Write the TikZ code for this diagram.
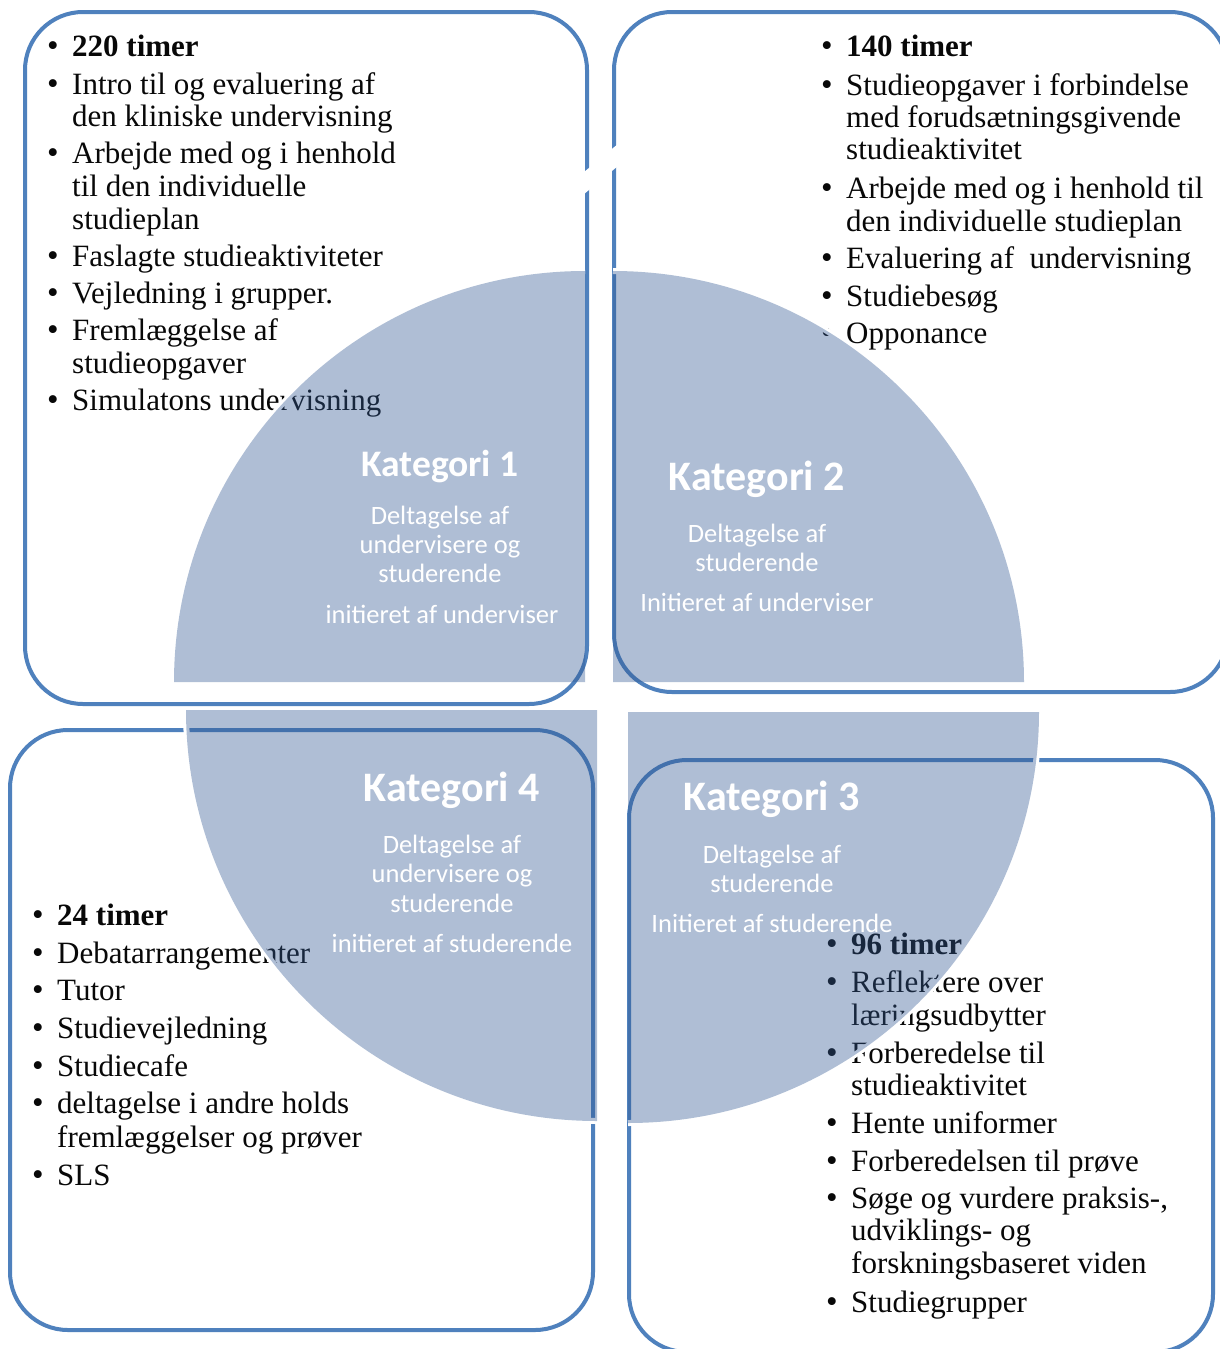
\documentclass[tikz,border=0pt]{standalone}
\usepackage{fontspec}
\setmainfont{Liberation Serif}
\newfontfamily\catfont{Carlito}
\definecolor{boxblue}{RGB}{79,129,189}
\definecolor{piecol}{RGB}{50,88,147}
\definecolor{txtcol}{RGB}{8,8,8}
\begin{document}
\begin{tikzpicture}[x=1pt,y=-1pt,
  boxline/.style={draw=boxblue, line width=4pt, rounded corners=58pt},
  txt/.style={anchor=base west, inner sep=0pt, text=txtcol, font=\fontsize{31}{33}\selectfont},
  btxt/.style={txt, font=\fontsize{31}{33}\selectfont\bfseries},
  bul/.style={anchor=base, inner sep=0pt, text=txtcol, font=\fontsize{33}{33}\selectfont},
  pie/.style={fill=piecol, fill opacity=0.39},
  piegap/.style={draw=white, line width=6pt},
  cathead/.style={anchor=base, inner sep=0pt, text=white, font=\catfont\bfseries\fontsize{42}{42}\selectfont},
  catsub/.style={anchor=base, inner sep=0pt, text=white, font=\catfont\fontsize{26.5}{26.5}\selectfont}]
\useasboundingbox (0,0) rectangle (1220,1349);
\fill[white] (0,0) rectangle (1220,1349);

% boxes
\draw[boxline] (25,12) rectangle (587,704);
\draw[boxline] (614,12) rectangle (1228,692);
\draw[boxline] (10,730) rectangle (593,1330);
\draw[boxline] (629,760) rectangle (1213,1352);

% white marks crossing the top lines
\draw[white, line width=17pt] (578,188) -- (624,150);

% top-left text
\node[bul] (tlb1) at (53,56) {\textbullet};
\node[btxt] (tl1) at (72,56) {220 timer};
\node[bul] (tlb2) at (53,94) {\textbullet};
\node[txt] (tl2) at (72,94) {Intro til og evaluering af};
\node[txt] (tl3) at (72,126) {den kliniske undervisning};
\node[bul] (tlb3) at (53,163) {\textbullet};
\node[txt] (tl4) at (72,163) {Arbejde med og i henhold};
\node[txt] (tl5) at (72,196) {til den individuelle};
\node[txt] (tl6) at (72,229) {studieplan};
\node[bul] (tlb4) at (53,266) {\textbullet};
\node[txt] (tl7) at (72,266) {Faslagte studieaktiviteter};
\node[bul] (tlb5) at (53,303) {\textbullet};
\node[txt] (tl8) at (72,303) {Vejledning i grupper.};
\node[bul] (tlb6) at (53,340) {\textbullet};
\node[txt] (tl9) at (72,340) {Fremlæggelse af};
\node[txt] (tl10) at (72,373) {studieopgaver};
\node[bul] (tlb7) at (53,410) {\textbullet};
\node[txt] (tl11) at (72,410) {Simulatons undervisning};

% top-right text
\node[bul] (trb1) at (827,56) {\textbullet};
\node[btxt] (tr1) at (846,56) {140 timer};
\node[bul] (trb2) at (827,95) {\textbullet};
\node[txt] (tr2) at (846,95) {Studieopgaver i forbindelse};
\node[txt] (tr3) at (846,127) {med forudsætningsgivende};
\node[txt] (tr4) at (846,159) {studieaktivitet};
\node[bul] (trb3) at (827,198) {\textbullet};
\node[txt] (tr5) at (846,198) {Arbejde med og i henhold til};
\node[txt] (tr6) at (846,231) {den individuelle studieplan};
\node[bul] (trb4) at (827,268) {\textbullet};
\node[txt] (tr7) at (846,268) {Evaluering af\hspace{0.5em}undervisning};
\node[bul] (trb5) at (827,306) {\textbullet};
\node[txt] (tr8) at (846,306) {Studiebesøg};
\node[bul] (trb6) at (827,343) {\textbullet};
\node[txt] (tr9) at (846,343) {Opponance};

% bottom-left text
\node[bul] (blb1) at (38,925) {\textbullet};
\node[btxt] (bl1) at (57,925) {24 timer};
\node[bul] (blb2) at (38,963) {\textbullet};
\node[txt] (bl2) at (57,963) {Debatarrangementer};
\node[bul] (blb3) at (38,1000) {\textbullet};
\node[txt] (bl3) at (57,1000) {Tutor};
\node[bul] (blb4) at (38,1038) {\textbullet};
\node[txt] (bl4) at (57,1038) {Studievejledning};
\node[bul] (blb5) at (38,1076) {\textbullet};
\node[txt] (bl5) at (57,1076) {Studiecafe};
\node[bul] (blb6) at (38,1113) {\textbullet};
\node[txt] (bl6) at (57,1113) {deltagelse i andre holds};
\node[txt] (bl7) at (57,1147) {fremlæggelser og prøver};
\node[bul] (blb7) at (38,1185) {\textbullet};
\node[txt] (bl8) at (57,1185) {SLS};

% bottom-right text
\node[bul] (brb1) at (832,954) {\textbullet};
\node[btxt] (br1) at (851,954) {96 timer};
\node[bul] (brb2) at (832,992) {\textbullet};
\node[txt] (br2) at (851,992) {Reflektere over};
\node[txt] (br3) at (851,1025) {læringsudbytter};
\node[bul] (brb3) at (832,1063) {\textbullet};
\node[txt] (br4) at (851,1063) {Forberedelse til};
\node[txt] (br5) at (851,1095) {studieaktivitet};
\node[bul] (brb4) at (832,1133) {\textbullet};
\node[txt] (br6) at (851,1133) {Hente uniformer};
\node[bul] (brb5) at (832,1171) {\textbullet};
\node[txt] (br7) at (851,1171) {Forberedelsen til prøve};
\node[bul] (brb6) at (832,1208) {\textbullet};
\node[txt] (br8) at (851,1208) {Søge og vurdere praksis-,};
\node[txt] (br9) at (851,1240) {udviklings- og};
\node[txt] (br10) at (851,1273) {forskningsbaseret viden};
\node[bul] (brb7) at (832,1312) {\textbullet};
\node[txt] (br11) at (851,1312) {Studiegrupper};

% pie quarters: white gaps on the arcs, then translucent fill
\draw[piegap] (174,682) arc[start angle=180, end angle=270, radius=411];
\draw[piegap] (613,271) arc[start angle=270, end angle=360, radius=411];
\draw[piegap] (1039,712) arc[start angle=0, end angle=90, radius=411];
\draw[piegap] (597,1121) arc[start angle=90, end angle=180, radius=411];
\fill[pie] (585,682) -- (174,682) arc[start angle=180, end angle=270, radius=411] -- cycle;
\fill[pie] (613,682) -- (613,271) arc[start angle=270, end angle=360, radius=411] -- cycle;
\fill[pie] (628,712) -- (1039,712) arc[start angle=0, end angle=90, radius=411] -- cycle;
\fill[pie] (597,710) -- (597,1121) arc[start angle=90, end angle=180, radius=411] -- cycle;

% category texts
\node[cathead, font=\catfont\bfseries\fontsize{37.5}{37.5}\selectfont] (k1) at (440,476) {Kategori 1};
\node[catsub] (k1a) at (440,524) {Deltagelse af};
\node[catsub] (k1b) at (440,553) {undervisere og};
\node[catsub] (k1c) at (440,582) {studerende};
\node[catsub] (k1d) at (442,623) {initieret af underviser};

\node[cathead] (k2) at (757,490) {Kategori 2};
\node[catsub] (k2a) at (757,542) {Deltagelse af};
\node[catsub] (k2b) at (757,571) {studerende};
\node[catsub] (k2c) at (757,611) {Initieret af underviser};

\node[cathead] (k3) at (772,810) {Kategori 3};
\node[catsub] (k3a) at (772,863) {Deltagelse af};
\node[catsub] (k3b) at (772,892) {studerende};
\node[catsub] (k3c) at (772,932) {Initieret af studerende};

\node[cathead] (k4) at (452,801) {Kategori 4};
\node[catsub] (k4a) at (452,853) {Deltagelse af};
\node[catsub] (k4b) at (452,882) {undervisere og};
\node[catsub] (k4c) at (452,912) {studerende};
\node[catsub] (k4d) at (452,952) {initieret af studerende};
\end{tikzpicture}
\end{document}
